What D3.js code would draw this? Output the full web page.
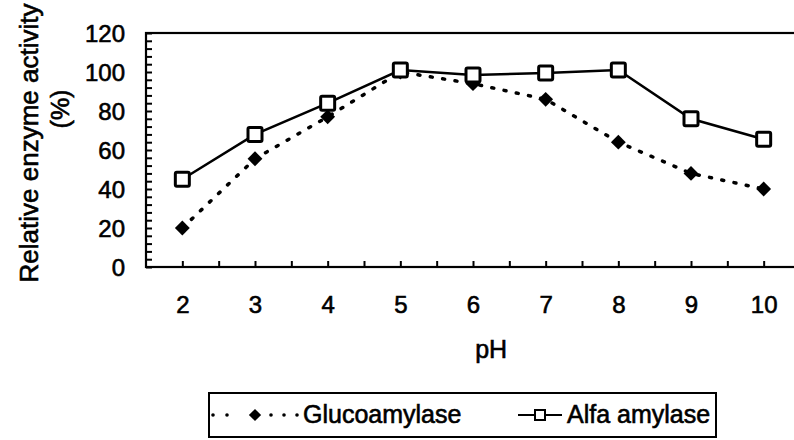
<!DOCTYPE html>
<html>
<head>
<meta charset="utf-8">
<script src="https://cdn.jsdelivr.net/npm/d3@7"></script>
<style>
  html, body { margin: 0; padding: 0; background: #fff; }
  svg { display: block; }
  text { font-family: "Liberation Sans", Arial, sans-serif; fill: #000; stroke: #000; stroke-width: 0.6px; }
</style>
</head>
<body>
<svg id="chart" width="794" height="440"></svg>
<script>
// pH values tested
const phValues = [2, 3, 4, 5, 6, 7, 8, 9, 10];
// Relative activity (%) per enzyme
const glucoamylase = [20, 55.5, 77, 100, 94, 86, 64, 48, 40];
const alfaAmylase = [45, 68, 84, 101, 98.5, 99.5, 101, 76, 65.5];
const yTickValues = [0, 20, 40, 60, 80, 100, 120];

const svg = d3.select("#chart");

const plotLeft = 146, plotRight = 800, plotTop = 33, plotBottom = 267;

const x = d3.scaleLinear().domain([1.5, 10.5]).range([plotLeft, plotRight]);
const y = d3.scaleLinear().domain([0, 120]).range([plotBottom, plotTop]);

// Plot frame
svg.append("rect")
  .attr("x", plotLeft).attr("y", plotTop)
  .attr("width", plotRight - plotLeft).attr("height", plotBottom - plotTop)
  .attr("fill", "none").attr("stroke", "#000").attr("stroke-width", 2.2);

// Y axis: minor inward ticks every 4 units, labels at every 20
const yAxis = d3.axisRight(y)
  .tickValues(d3.range(0, 121, 4))
  .tickSize(6)
  .tickFormat("");
const gy = svg.append("g").attr("transform", `translate(${plotLeft},0)`).call(yAxis);
gy.select(".domain").remove();
gy.selectAll(".tick line").attr("stroke", "#000").attr("stroke-width", 2);

const yLabels = d3.axisLeft(y).tickValues(yTickValues).tickSize(0).tickPadding(21);
const gyl = svg.append("g").attr("transform", `translate(${plotLeft},0)`).call(yLabels);
gyl.select(".domain").remove();
gyl.selectAll("text")
  .style("font-family", "'Liberation Sans', Arial, sans-serif")
  .style("font-size", "24px")
  .attr("dy", "0.36em");

// X axis: inward ticks every half pH unit
const xAxis = d3.axisTop(x)
  .tickValues(d3.range(2, 10.01, 0.5))
  .tickSize(6)
  .tickFormat("");
const gx = svg.append("g").attr("transform", `translate(0,${plotBottom})`).call(xAxis);
gx.select(".domain").remove();
gx.selectAll(".tick line").attr("stroke", "#000").attr("stroke-width", 2);

const xLabels = d3.axisBottom(x).tickValues(phValues).tickSize(0).tickPadding(0).tickFormat(d3.format("d"));
const gxl = svg.append("g").attr("transform", `translate(0,${plotBottom})`).call(xLabels);
gxl.select(".domain").remove();
gxl.selectAll("text")
  .style("font-family", "'Liberation Sans', Arial, sans-serif")
  .style("font-size", "24px")
  .attr("dy", null)
  .attr("y", 46);

// Axis titles
svg.append("text")
  .attr("x", x(6.25)).attr("y", 358)
  .attr("text-anchor", "middle")
  .style("font-size", "25px")
  .text("pH");

svg.append("text")
  .attr("transform", "translate(38,143) rotate(-90)")
  .attr("text-anchor", "middle")
  .style("font-size", "26px")
  .text("Relative enzyme activity");
svg.append("text")
  .attr("transform", "translate(69,109) rotate(-90)")
  .attr("text-anchor", "middle")
  .style("font-size", "25px")
  .text("(%)");

const line = d3.line().x((d, i) => x(phValues[i])).y(d => y(d));

// Glucoamylase: dotted line with filled diamonds
svg.append("path")
  .datum(glucoamylase)
  .attr("d", line)
  .attr("fill", "none")
  .attr("stroke", "#000")
  .attr("stroke-width", 3.5)
  .attr("stroke-linecap", "round")
  .attr("stroke-dasharray", "2 10.5");

const diamond = d3.symbol().type(d3.symbolSquare).size(110);
svg.append("g").selectAll("path")
  .data(glucoamylase)
  .join("path")
  .attr("d", diamond)
  .attr("transform", (d, i) => `translate(${x(phValues[i])},${y(d)}) rotate(45)`)
  .attr("fill", "#000");

// Alfa amylase: solid line with open squares
svg.append("path")
  .datum(alfaAmylase)
  .attr("d", line)
  .attr("fill", "none")
  .attr("stroke", "#000")
  .attr("stroke-width", 2.5);

svg.append("g").selectAll("rect")
  .data(alfaAmylase)
  .join("rect")
  .attr("x", (d, i) => x(phValues[i]) - 7)
  .attr("y", d => y(d) - 7)
  .attr("width", 14).attr("height", 14)
  .attr("rx", 1.5)
  .attr("fill", "#fff")
  .attr("stroke", "#000")
  .attr("stroke-width", 3);

// Legend
const legend = svg.append("g");
legend.append("rect")
  .attr("x", 209).attr("y", 393)
  .attr("width", 507).attr("height", 44)
  .attr("fill", "#fff").attr("stroke", "#000").attr("stroke-width", 2);

// dotted sample: dots either side of the diamond
const legendDotOffsets = [-42, -28, 16, 29, 42];
legend.selectAll("circle")
  .data(legendDotOffsets)
  .join("circle")
  .attr("cx", d => 255 + d)
  .attr("cy", 415)
  .attr("r", 1.8)
  .attr("fill", "#000");
legend.append("path")
  .attr("d", d3.symbol().type(d3.symbolSquare).size(75))
  .attr("transform", "translate(255,415) rotate(45)")
  .attr("fill", "#000");
legend.append("text")
  .attr("x", 303).attr("y", 423)
  .style("font-size", "25px")
  .text("Glucoamylase");

legend.append("line")
  .attr("x1", 518).attr("x2", 562).attr("y1", 415).attr("y2", 415)
  .attr("stroke", "#000").attr("stroke-width", 2);
legend.append("rect")
  .attr("x", 535).attr("y", 410)
  .attr("width", 10).attr("height", 10)
  .attr("fill", "#fff").attr("stroke", "#000").attr("stroke-width", 2);
legend.append("text")
  .attr("x", 567).attr("y", 423)
  .style("font-size", "25px")
  .text("Alfa amylase");
</script>
</body>
</html>
